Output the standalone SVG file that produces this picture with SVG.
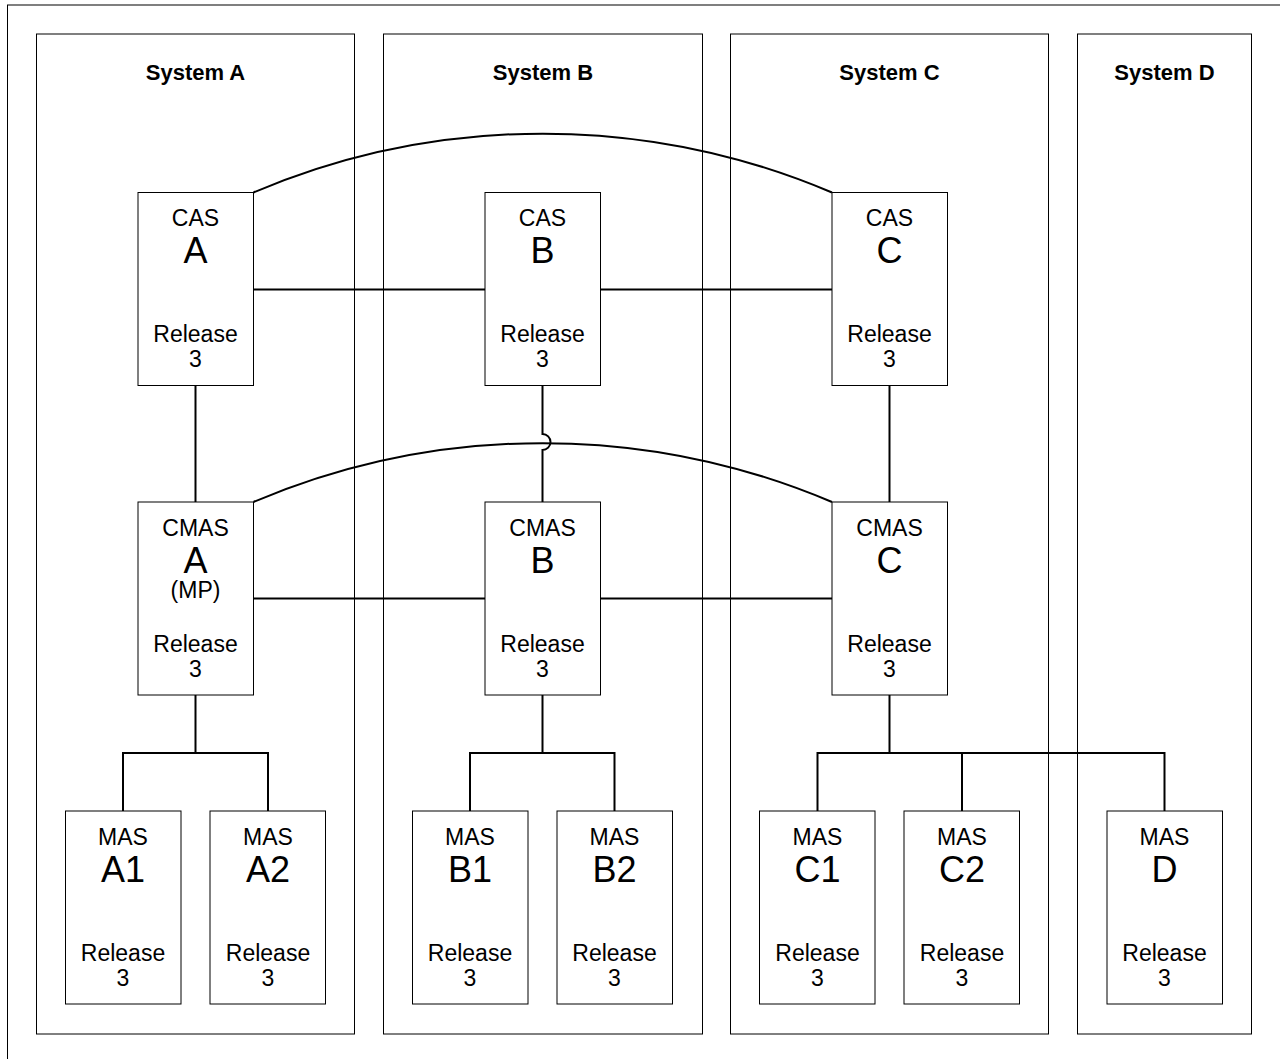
<svg xmlns="http://www.w3.org/2000/svg" width="1280" height="1059" viewBox="0 0 1280 1059">
<style>
  .frame { fill: none; stroke: #000; stroke-width: 1; }
  .box { fill: #fff; stroke: #000; stroke-width: 1; }
  .conn { fill: none; stroke: #000; stroke-width: 2; }
  text { font-family: "Liberation Sans", Arial, sans-serif; fill: #000; text-anchor: middle; }
  .title { font-size: 22px; font-weight: bold; }
  .t { font-size: 23px; }
  .big { font-size: 36px; }
</style>
<rect x="0" y="0" width="1280" height="1059" fill="#fff"/>
<rect x="7.5" y="5" width="1290" height="1070" class="frame" stroke="#777"/>

<g id="system-a">
  <rect x="36.5" y="34" width="318" height="1000" class="frame"/>
  <text x="195.5" y="80" class="title">System A</text>
</g>
<g id="system-b">
  <rect x="383.5" y="34" width="319" height="1000" class="frame"/>
  <text x="543" y="80" class="title">System B</text>
</g>
<g id="system-c">
  <rect x="730.5" y="34" width="318" height="1000" class="frame"/>
  <text x="889.5" y="80" class="title">System C</text>
</g>
<g id="system-d">
  <rect x="1077.5" y="34" width="174" height="1000" class="frame"/>
  <text x="1164.5" y="80" class="title">System D</text>
</g>

<g id="connectors">
  <path class="conn" d="M253.5 192.5 A740 740 0 0 1 832 192.5"/>
  <path class="conn" d="M253.5 502 A740 740 0 0 1 832 502"/>
  <line class="conn" x1="253.5" y1="289.5" x2="485" y2="289.5"/>
  <line class="conn" x1="600.5" y1="289.5" x2="832" y2="289.5"/>
  <line class="conn" x1="253.5" y1="598.5" x2="485" y2="598.5"/>
  <line class="conn" x1="600.5" y1="598.5" x2="832" y2="598.5"/>
  <line class="conn" x1="195.5" y1="385.5" x2="195.5" y2="502"/>
  <line class="conn" x1="889.5" y1="385.5" x2="889.5" y2="502"/>
  <path class="conn" d="M542.5 385.5 V434 A8 8 0 0 1 542.5 450 V502"/>
  <path class="conn" d="M195.5 695 V753 M123 811 V753 H268 V811"/>
  <path class="conn" d="M542.5 695 V753 M470 811 V753 H614.5 V811"/>
  <path class="conn" d="M889.5 695 V753 M817.5 811 V753 H1164.5 V811 M962 753 V811"/>
</g>

<g id="cas-a">
  <rect x="138" y="192.5" width="115.5" height="193" class="box"/>
  <text x="195.5" y="226" class="t">CAS</text>
  <text x="195.5" y="263" class="big">A</text>
  <text x="195.5" y="342" class="t">Release</text>
  <text x="195.5" y="367" class="t">3</text>
</g>
<g id="cas-b">
  <rect x="485" y="192.5" width="115.5" height="193" class="box"/>
  <text x="542.5" y="226" class="t">CAS</text>
  <text x="542.5" y="263" class="big">B</text>
  <text x="542.5" y="342" class="t">Release</text>
  <text x="542.5" y="367" class="t">3</text>
</g>
<g id="cas-c">
  <rect x="832" y="192.5" width="115.5" height="193" class="box"/>
  <text x="889.5" y="226" class="t">CAS</text>
  <text x="889.5" y="263" class="big">C</text>
  <text x="889.5" y="342" class="t">Release</text>
  <text x="889.5" y="367" class="t">3</text>
</g>

<g id="cmas-a">
  <rect x="138" y="502" width="115.5" height="193" class="box"/>
  <text x="195.5" y="536" class="t">CMAS</text>
  <text x="195.5" y="573" class="big">A</text>
  <text x="195.5" y="598" class="t">(MP)</text>
  <text x="195.5" y="652" class="t">Release</text>
  <text x="195.5" y="677" class="t">3</text>
</g>
<g id="cmas-b">
  <rect x="485" y="502" width="115.5" height="193" class="box"/>
  <text x="542.5" y="536" class="t">CMAS</text>
  <text x="542.5" y="573" class="big">B</text>
  <text x="542.5" y="652" class="t">Release</text>
  <text x="542.5" y="677" class="t">3</text>
</g>
<g id="cmas-c">
  <rect x="832" y="502" width="115.5" height="193" class="box"/>
  <text x="889.5" y="536" class="t">CMAS</text>
  <text x="889.5" y="573" class="big">C</text>
  <text x="889.5" y="652" class="t">Release</text>
  <text x="889.5" y="677" class="t">3</text>
</g>

<g id="mas-a1">
  <rect x="65.5" y="811" width="115.5" height="193" class="box"/>
  <text x="123" y="845" class="t">MAS</text>
  <text x="123" y="882" class="big">A1</text>
  <text x="123" y="961" class="t">Release</text>
  <text x="123" y="986" class="t">3</text>
</g>
<g id="mas-a2">
  <rect x="210" y="811" width="115.5" height="193" class="box"/>
  <text x="268" y="845" class="t">MAS</text>
  <text x="268" y="882" class="big">A2</text>
  <text x="268" y="961" class="t">Release</text>
  <text x="268" y="986" class="t">3</text>
</g>
<g id="mas-b1">
  <rect x="412.5" y="811" width="115.5" height="193" class="box"/>
  <text x="470" y="845" class="t">MAS</text>
  <text x="470" y="882" class="big">B1</text>
  <text x="470" y="961" class="t">Release</text>
  <text x="470" y="986" class="t">3</text>
</g>
<g id="mas-b2">
  <rect x="557" y="811" width="115.5" height="193" class="box"/>
  <text x="614.5" y="845" class="t">MAS</text>
  <text x="614.5" y="882" class="big">B2</text>
  <text x="614.5" y="961" class="t">Release</text>
  <text x="614.5" y="986" class="t">3</text>
</g>
<g id="mas-c1">
  <rect x="759.5" y="811" width="115.5" height="193" class="box"/>
  <text x="817.5" y="845" class="t">MAS</text>
  <text x="817.5" y="882" class="big">C1</text>
  <text x="817.5" y="961" class="t">Release</text>
  <text x="817.5" y="986" class="t">3</text>
</g>
<g id="mas-c2">
  <rect x="904" y="811" width="115.5" height="193" class="box"/>
  <text x="962" y="845" class="t">MAS</text>
  <text x="962" y="882" class="big">C2</text>
  <text x="962" y="961" class="t">Release</text>
  <text x="962" y="986" class="t">3</text>
</g>
<g id="mas-d">
  <rect x="1107" y="811" width="115.5" height="193" class="box"/>
  <text x="1164.5" y="845" class="t">MAS</text>
  <text x="1164.5" y="882" class="big">D</text>
  <text x="1164.5" y="961" class="t">Release</text>
  <text x="1164.5" y="986" class="t">3</text>
</g>
</svg>
